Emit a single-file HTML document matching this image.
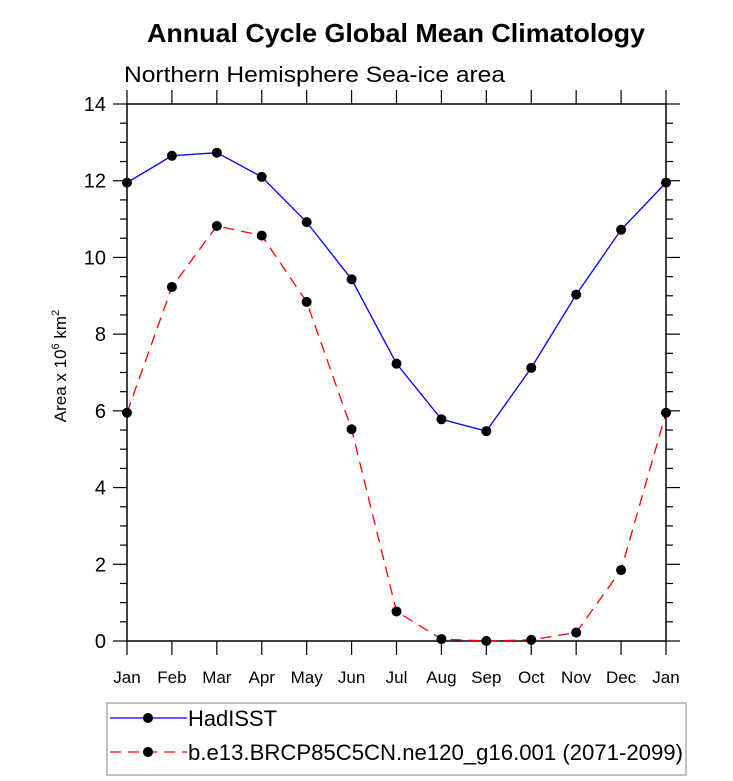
<!DOCTYPE html>
<html><head><meta charset="utf-8"><style>
body{margin:0;background:#fff;}
svg{display:block;font-family:"Liberation Sans",sans-serif;}
</style></head><body>
<svg id="c" width="733" height="781">
<text x="147" y="42" textLength="498" lengthAdjust="spacingAndGlyphs" font-size="26" font-weight="bold">Annual Cycle Global Mean Climatology</text>
<text x="124" y="82" textLength="381" lengthAdjust="spacingAndGlyphs" font-size="22">Northern Hemisphere Sea-ice area</text>
<text transform="translate(66,366) rotate(-90)" text-anchor="middle" font-size="17">Area x 10<tspan dy="-7" font-size="11">6</tspan><tspan dy="7"> km</tspan><tspan dy="-7" font-size="11">2</tspan></text>
<rect x="127" y="104" width="539" height="537" fill="none" stroke="#000" stroke-width="1.5"/>
<g id="ax"></g><g id="series"></g>
<g>
<rect x="107" y="703" width="579" height="72" fill="none" stroke="#999" stroke-width="1.2"/>
<g>
<line x1="110" y1="718" x2="187" y2="718" stroke="#00f" stroke-width="1.3"/>
<circle cx="148" cy="718" r="5" fill="#000"/>
<text x="188" y="726" textLength="89" lengthAdjust="spacingAndGlyphs" font-size="22">HadISST</text></g>
<g>
<line x1="110" y1="752" x2="187" y2="752" stroke="#f00" stroke-width="1.3" stroke-dasharray="11,7"/>
<circle cx="148" cy="752" r="5" fill="#000"/>
<text x="188" y="760" textLength="495" lengthAdjust="spacingAndGlyphs" font-size="22">b.e13.BRCP85C5CN.ne120_g16.001 (2071-2099)</text></g>
</g>
</svg>
<script>
const months=["Jan","Feb","Mar","Apr","May","Jun","Jul","Aug","Sep","Oct","Nov","Dec","Jan"];
const hadisst=[11.95,12.65,12.73,12.1,10.92,9.43,7.23,5.78,5.47,7.12,9.03,10.72,11.95];
const model=[5.95,9.23,10.82,10.57,8.84,5.52,0.77,0.05,0.0,0.03,0.22,1.85,5.95];
const yTicks=[0,2,4,6,8,10,12,14];
const NS="http://www.w3.org/2000/svg";
const X0=127,X1=666,Y0=641,Y1=104,YMAX=14;
const xs=i=>X0+(X1-X0)*i/(months.length-1);
const ys=v=>Y0-(Y0-Y1)*v/YMAX;
function mk(t,a,p){const e=document.createElementNS(NS,t);for(const k in a)e.setAttribute(k,a[k]);p.appendChild(e);return e;}
const ax=document.getElementById('ax');
months.forEach((m,i)=>{const x=xs(i);
 mk('line',{x1:x,y1:Y0,x2:x,y2:Y0+14,stroke:'#000','stroke-width':1.2},ax);
 mk('line',{x1:x,y1:Y1,x2:x,y2:Y1-14,stroke:'#000','stroke-width':1.2},ax);
 const t=mk('text',{x:x,y:683,'text-anchor':'middle','font-size':17},ax);t.textContent=m;
 
 
});
for(let v=0;v<=YMAX;v+=0.5){const y=ys(v);const maj=v%2===0;const L=maj?14:7;
 mk('line',{x1:X0,y1:y,x2:X0-L,y2:y,stroke:'#000','stroke-width':1.2},ax);
 mk('line',{x1:X1,y1:y,x2:X1+L,y2:y,stroke:'#000','stroke-width':1.2},ax);}
yTicks.forEach(v=>{const t=mk('text',{x:106,y:ys(v)+7,'text-anchor':'end','font-size':20},ax);t.textContent=v;
 
 });
const sg=document.getElementById('series');
function draw(vals,col,dash,name){
 const g=mk('g',{},sg);
 
 
 const a={points:vals.map((v,i)=>xs(i)+','+ys(v)).join(' '),fill:'none',stroke:col,'stroke-width':1.3};
 if(dash)a['stroke-dasharray']=dash;
 mk('polyline',a,g);
 vals.forEach((v,i)=>{const c=mk('circle',{cx:xs(i),cy:ys(v),r:5,fill:'#000'},g);
  
  });
}
draw(hadisst,'#00f',null,'hadisst-line');
draw(model,'#f00','11,7','model-line');
</script>
</body></html>
